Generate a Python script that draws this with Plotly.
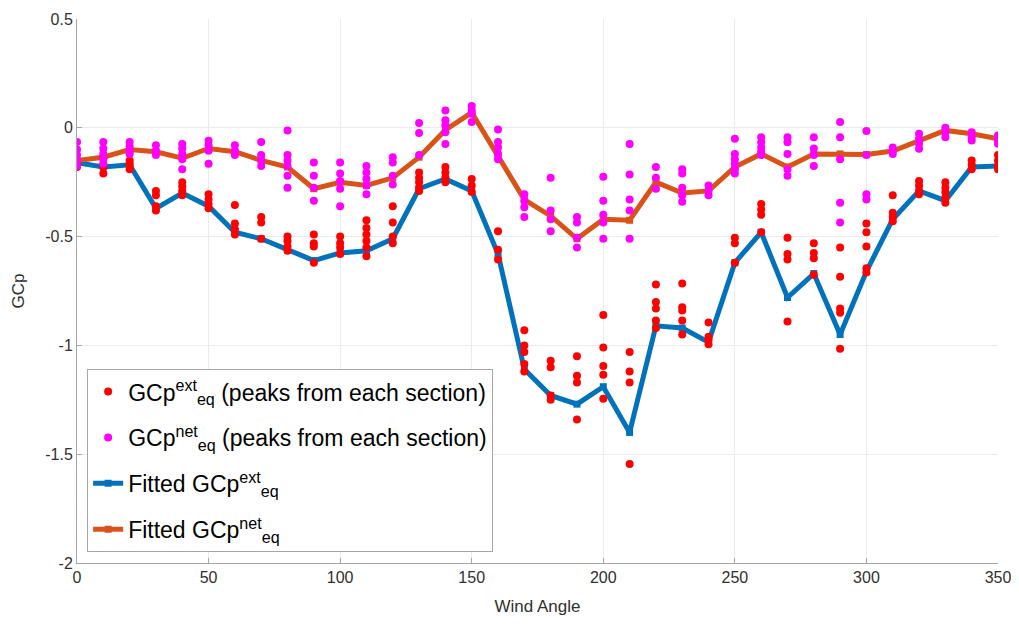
import plotly.graph_objects as go

angles = list(range(0, 360, 10))

fit_ext = [-0.16, -0.18, -0.17, -0.37, -0.30, -0.36, -0.48, -0.51, -0.56, -0.61,
           -0.575, -0.565, -0.51, -0.28, -0.235, -0.29, -0.58, -1.11, -1.23, -1.27,
           -1.19, -1.40, -0.91, -0.92, -0.985, -0.62, -0.48, -0.78, -0.67, -0.95,
           -0.66, -0.42, -0.29, -0.335, -0.18, -0.175]

fit_net = [-0.15, -0.135, -0.10, -0.11, -0.14, -0.095, -0.11, -0.15, -0.18, -0.28,
           -0.25, -0.265, -0.23, -0.135, -0.01, 0.07, -0.13, -0.33, -0.405, -0.51,
           -0.42, -0.425, -0.25, -0.30, -0.29, -0.18, -0.12, -0.18, -0.12, -0.12,
           -0.123, -0.107, -0.058, -0.012, -0.027, -0.05]

ext_peaks = [
    [-0.15, -0.16, -0.17, -0.18],
    [-0.135, -0.17, -0.18, -0.21],
    [-0.15, -0.165, -0.175, -0.19],
    [-0.29, -0.31, -0.36, -0.38],
    [-0.25, -0.27, -0.29, -0.31],
    [-0.305, -0.33, -0.35, -0.37],
    [-0.355, -0.44, -0.465, -0.49],
    [-0.41, -0.435, -0.51],
    [-0.50, -0.52, -0.545, -0.565],
    [-0.49, -0.53, -0.545, -0.62],
    [-0.50, -0.53, -0.55, -0.58],
    [-0.425, -0.46, -0.49, -0.52, -0.55, -0.59],
    [-0.36, -0.435, -0.50, -0.53],
    [-0.205, -0.23, -0.25, -0.275, -0.29],
    [-0.18, -0.205, -0.23, -0.25],
    [-0.235, -0.265, -0.295],
    [-0.475, -0.56, -0.605],
    [-0.93, -1.00, -1.03, -1.085, -1.12],
    [-1.07, -1.10, -1.23, -1.25],
    [-1.05, -1.14, -1.17, -1.34],
    [-0.86, -1.01, -1.095, -1.135, -1.245],
    [-1.03, -1.12, -1.17, -1.545],
    [-0.72, -0.80, -0.83, -0.885, -0.92],
    [-0.715, -0.825, -0.84, -0.885, -0.95],
    [-0.895, -0.96, -0.975, -0.995],
    [-0.505, -0.53, -0.62],
    [-0.35, -0.375, -0.40, -0.48],
    [-0.505, -0.58, -0.605, -0.89],
    [-0.53, -0.575, -0.60, -0.675],
    [-0.55, -0.685, -0.83, -0.85, -1.015],
    [-0.44, -0.48, -0.545, -0.645, -0.665],
    [-0.31, -0.39, -0.41, -0.43],
    [-0.245, -0.265, -0.29, -0.305],
    [-0.25, -0.275, -0.295, -0.32, -0.345],
    [-0.15, -0.17, -0.19],
    [-0.125, -0.15, -0.175, -0.19],
]

net_peaks = [
    [-0.065, -0.10, -0.125, -0.15, -0.175],
    [-0.065, -0.095, -0.12, -0.145, -0.165],
    [-0.065, -0.085, -0.11, -0.12],
    [-0.08, -0.105, -0.125],
    [-0.075, -0.095, -0.12, -0.145, -0.19],
    [-0.06, -0.08, -0.105, -0.165],
    [-0.08, -0.105, -0.125],
    [-0.065, -0.125, -0.15, -0.175],
    [-0.012, -0.125, -0.15, -0.175, -0.22, -0.275],
    [-0.16, -0.22, -0.275, -0.335],
    [-0.16, -0.21, -0.245, -0.28, -0.36],
    [-0.175, -0.205, -0.235, -0.265, -0.305],
    [-0.135, -0.16, -0.22, -0.26],
    [0.022, -0.024, -0.125],
    [0.08, 0.035, 0.012, -0.02, -0.075],
    [0.10, 0.08, 0.065, 0.027],
    [-0.008, -0.065, -0.09, -0.12, -0.145],
    [-0.305, -0.335, -0.365, -0.41],
    [-0.23, -0.38, -0.42, -0.475],
    [-0.41, -0.435, -0.505, -0.55],
    [-0.225, -0.335, -0.40, -0.435, -0.51],
    [-0.075, -0.215, -0.33, -0.38, -0.51],
    [-0.18, -0.23, -0.28],
    [-0.19, -0.21, -0.275, -0.31, -0.34],
    [-0.265, -0.29, -0.31],
    [-0.05, -0.12, -0.145, -0.165, -0.19, -0.21],
    [-0.043, -0.066, -0.09, -0.11, -0.125],
    [-0.043, -0.066, -0.12, -0.19, -0.22],
    [-0.043, -0.095, -0.125, -0.175],
    [0.027, -0.043, -0.145, -0.345, -0.435],
    [-0.015, -0.125, -0.305, -0.33],
    [-0.09, -0.105, -0.12],
    [-0.027, -0.05, -0.073, -0.096],
    [0.0, -0.02, -0.043],
    [-0.02, -0.043, -0.058],
    [-0.035, -0.058, -0.073],
]

x_ticks = [0, 50, 100, 150, 200, 250, 300, 350]
y_ticks = [-2, -1.5, -1, -0.5, 0, 0.5]
y_tick_text = ["-2", "-1.5", "-1", "-0.5", "0", "0.5"]

ext_x = [a for a, vals in zip(angles, ext_peaks) for _ in vals]
ext_y = [v for vals in ext_peaks for v in vals]
net_x = [a for a, vals in zip(angles, net_peaks) for _ in vals]
net_y = [v for vals in net_peaks for v in vals]

BLUE = "#0072BD"
ORANGE = "#D95319"
FONT = "Arial, Liberation Sans, Helvetica, sans-serif"

fig = go.Figure()
fig.add_trace(go.Scatter(
    x=angles, y=fit_ext, mode="lines+markers", name="Fitted GCp<sup>ext</sup><sub>eq</sub>",
    line=dict(color=BLUE, width=5), marker=dict(symbol="square", size=7, color=BLUE),
    legendrank=3, legendgroup="c"))
fig.add_trace(go.Scatter(
    x=angles, y=fit_net, mode="lines+markers", name="Fitted GCp<sup>net</sup><sub>eq</sub>",
    line=dict(color=ORANGE, width=5), marker=dict(symbol="square", size=7, color=ORANGE),
    legendrank=4, legendgroup="d"))
fig.add_trace(go.Scatter(
    x=ext_x, y=ext_y, mode="markers",
    name="GCp<sup>ext</sup><sub>eq</sub> (peaks from each section)",
    marker=dict(color="#FF0000", size=8), legendrank=1, legendgroup="a"))
fig.add_trace(go.Scatter(
    x=net_x, y=net_y, mode="markers",
    name="GCp<sup>net</sup><sub>eq</sub> (peaks from each section)",
    marker=dict(color="#FF00FF", size=8), legendrank=2, legendgroup="b"))

axis_common = dict(
    showgrid=True, gridcolor="#ebebeb", gridwidth=1,
    showline=True, linecolor="#a6a6a6", linewidth=1,
    ticks="inside", ticklen=5, tickcolor="#a6a6a6",
    tickfont=dict(family=FONT, size=16, color="#303030"),
    zeroline=False, mirror=False, automargin=False,
)

fig.update_xaxes(range=[0, 350], tickvals=x_ticks,
                 title=dict(text="Wind Angle", font=dict(family=FONT, size=17, color="#303030"), standoff=14),
                 **axis_common)
fig.update_yaxes(range=[-2, 0.5], tickvals=y_ticks, ticktext=y_tick_text,
                 title=dict(text="GCp", font=dict(family=FONT, size=17, color="#303030"), standoff=16),
                 **axis_common)

# page body adds an 8px offset; compensate so the plot area lands at x 77-998, y 19-563
fig.update_layout(
    width=1011, height=619,
    margin=dict(l=69, r=21, t=11, b=64),
    plot_bgcolor="white", paper_bgcolor="white",
    font=dict(family=FONT, color="#000000"),
    legend=dict(
        x=0.011, y=0.02, xanchor="left", yanchor="bottom",
        bgcolor="white", bordercolor="#a6a6a6", borderwidth=1,
        font=dict(family=FONT, size=23, color="#000000"),
        traceorder="grouped", itemwidth=30, tracegroupgap=13,
    ),
)

fig.write_html("out.html")
